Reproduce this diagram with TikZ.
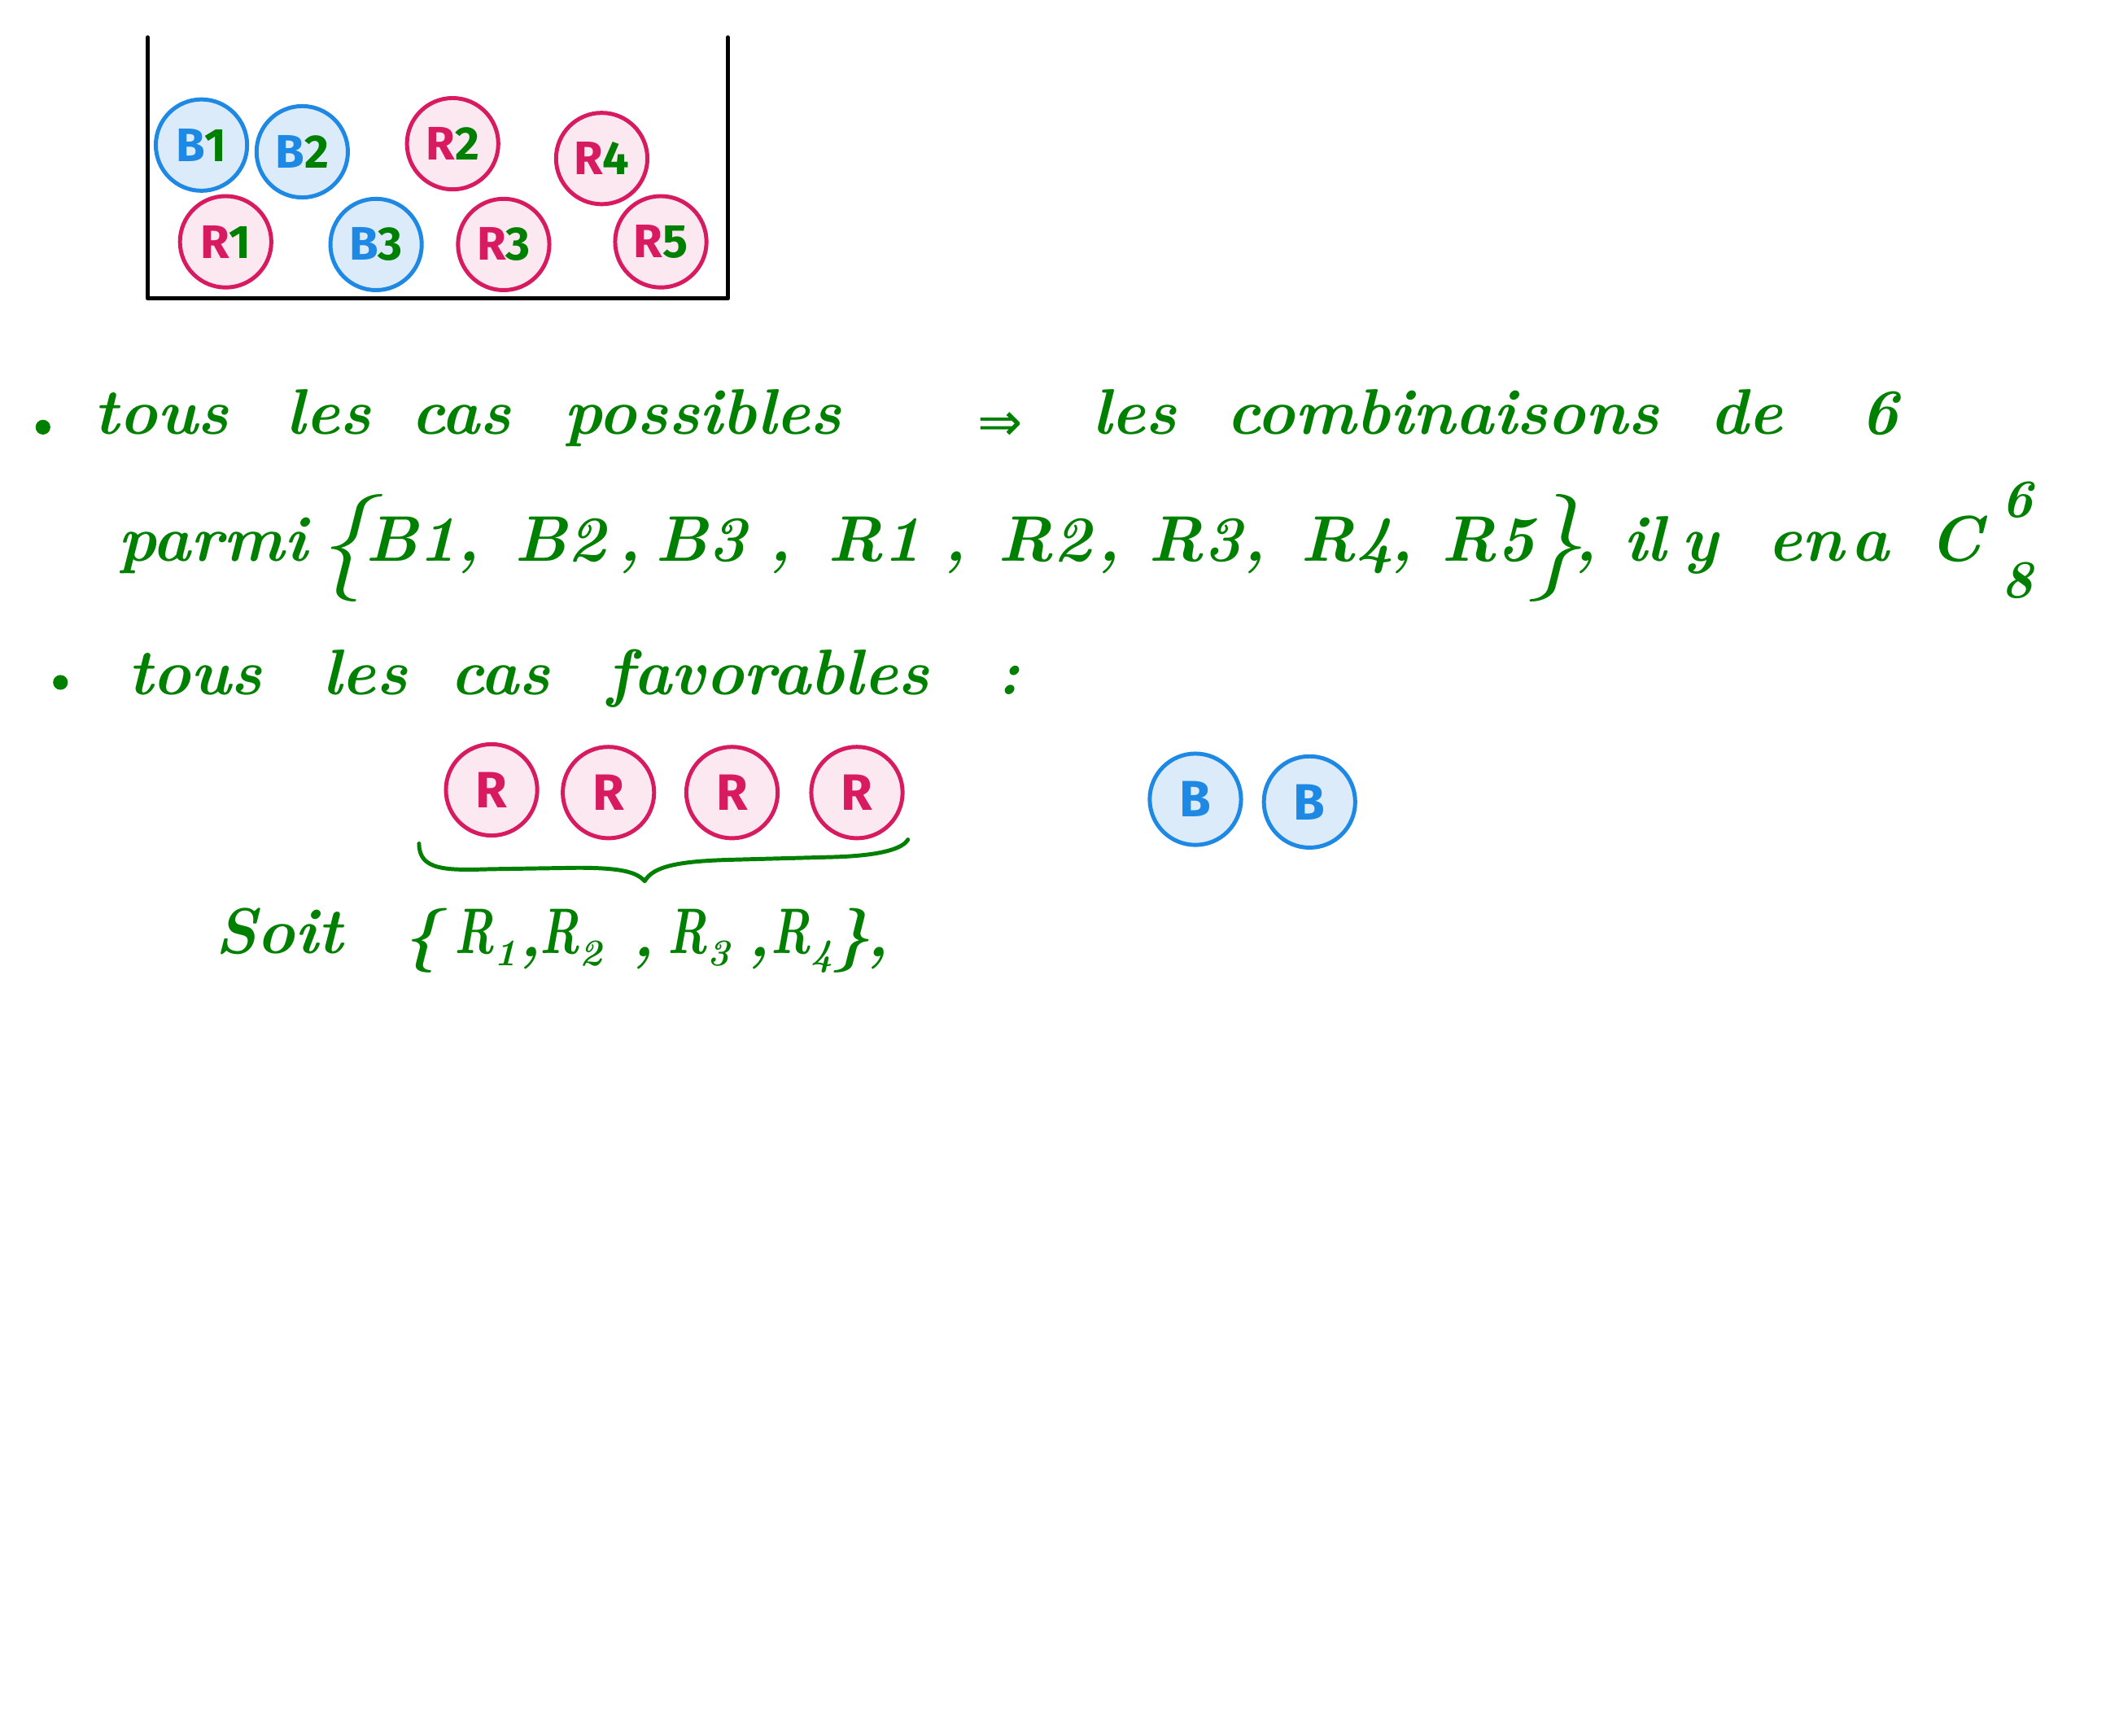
\documentclass[tikz,border=0pt]{standalone}
\usepackage{fontspec}
\usepackage{graphicx}
\newfontfamily\ballfont{Fira Sans}
\newfontfamily\symfont{DejaVu Sans}
\definecolor{hgreen}{HTML}{008000}
\definecolor{bstroke}{HTML}{1E88E5}
\definecolor{bfill}{HTML}{DCEBFA}
\definecolor{rstroke}{HTML}{D81B60}
\definecolor{rfill}{HTML}{FBE8F0}
\newcommand\bl[2]{\textcolor{bstroke}{#1}\textcolor{hgreen}{#2}}
\newcommand\rl[2]{\textcolor{rstroke}{#1}\textcolor{hgreen}{#2}}
\newcommand\Rsub[1]{\scalebox{0.72}[1]{R}\raisebox{-9pt}{\fontsize{28}{28}\selectfont #1}}
\tikzset{
  ball/.style={circle, line width=3pt, minimum size=68pt, inner sep=0pt,
    font=\ballfont\bfseries\fontsize{35}{35}\selectfont},
  blueball/.style={ball, draw=bstroke, fill=bfill, text=bstroke},
  redball/.style={ball, draw=rstroke, fill=rfill, text=rstroke},
  favball/.style={font=\ballfont\bfseries\fontsize{38}{38}\selectfont},
  hw/.style={anchor=base west, inner sep=0pt, text=hgreen,
    font=\fontsize{48}{58}\selectfont\bfseries\itshape},
  hwsmall/.style={hw, font=\fontsize{40}{48}\selectfont\bfseries\itshape},
  hwbig/.style={hw, font=\fontsize{80}{90}\selectfont\itshape},
  hwsym/.style={hw, font=\fontsize{40}{48}\selectfont\symfont},
  dotbul/.style={circle, fill=hgreen, minimum size=11pt, inner sep=0pt},
  ink/.style={draw=hgreen, line width=3pt, line cap=round, line join=round},
}
\begin{document}
\begin{tikzpicture}[x=1pt,y=-1pt]
\useasboundingbox[fill=white] (0,0) rectangle (1568,1292);
% container
\coordinate (ctl) at (110,28);
\coordinate (cbl) at (110,222);
\coordinate (cbr) at (542,222);
\coordinate (ctr) at (542,28);
\draw[line width=3.5pt, line cap=round, line join=round] (ctl) -- (cbl) -- (cbr) -- (ctr);
% balls in container
\node[blueball] (b1) at (150,108) {\bl{B}{1}};
\node[blueball] (b2) at (225,113) {\bl{B}{2}};
\node[redball] (r2) at (337,107) {\rl{R}{2}};
\node[redball] (r4) at (448,118) {\rl{R}{4}};
\node[redball] (r1) at (168,180) {\rl{R}{1}};
\node[blueball] (b3) at (280,182) {\bl{B}{3}};
\node[redball] (r3) at (375,182) {\rl{R}{3}};
\node[redball] (r5) at (492,180) {\rl{R}{5}};
% line 1
\node[dotbul] (bul1) at (32,318) {};
\node[hw] (w1) at (70,323) {tous};
\node[hw] (w2) at (213,323) {les};
\node[hw] (w3) at (306,323) {cas};
\node[hw] (w4) at (420,323) {possibles};
\node[hwsym] (w5) at (728,328) {⇒};
\node[hw] (w6) at (813,323) {les};
\node[hw] (w7) at (913,323) {combinaisons};
\node[hw] (w8) at (1273,323) {de};
\node[hw] (w9) at (1385,323) {6};
% line 2
\node[hw] (p1) at (88,418) {parmi};
\node[hwbig] (p2) at (236,428) {\{};
\node[hw] (p3) at (272,418) {B1};
\node[hw] (p4) at (340,418) {,};
\node[hw] (p5) at (383,418) {B2};
\node[hw] (p6) at (460,418) {,};
\node[hw] (p7) at (488,418) {B3};
\node[hw] (p8) at (572,418) {,};
\node[hw] (p9) at (616,418) {R1};
\node[hw] (p10) at (702,418) {,};
\node[hw] (p11) at (743,418) {R2};
\node[hw] (p12) at (817,418) {,};
\node[hw] (p13) at (855,418) {R3};
\node[hw] (p14) at (925,418) {,};
\node[hw] (p15) at (968,418) {R4};
\node[hw] (p16) at (1035,418) {,};
\node[hw] (p17) at (1073,418) {R5};
\node[hwbig] (p18) at (1138,428) {\}};
\node[hw] (p19) at (1172,418) {, il};
\node[hw] (p20) at (1252,418) {y};
\node[hw] (p21) at (1316,418) {en};
\node[hw] (p22) at (1378,418) {a};
\node[hw] (p23) at (1436,418) {C};
\node[hwsmall] (p24) at (1490,385) {6};
\node[hwsmall] (p25) at (1490,445) {8};
% line 3
\node[dotbul] (bul2) at (45,508) {};
\node[hw] (f1) at (95,517) {tous};
\node[hw] (f2) at (240,517) {les};
\node[hw] (f3) at (335,517) {cas};
\node[hw] (f4) at (452,517) {favorables};
\node[hw] (f5) at (742,517) {:};
% favourable balls
\node[redball, favball] (fr1) at (366,588) {R};
\node[redball, favball] (fr2) at (453,590) {R};
\node[redball, favball] (fr3) at (545,590) {R};
\node[redball, favball] (fr4) at (638,590) {R};
\node[blueball, favball] (fb1) at (890,595) {B};
\node[blueball, favball] (fb2) at (975,597) {B};
% brace
\draw[ink] (312,628) .. controls (312,648) and (332,648) .. (365,647)
  -- (430,646) .. controls (462,646) and (474,649) .. (480,656)
  .. controls (486,645) and (505,641) .. (545,640)
  -- (620,638) .. controls (655,637) and (672,632) .. (676,625);
% Soit line
\node[hw] (s1) at (160,710) {Soit};
\node[hw] (s2) at (300,712) {\{};
\node[hw] (s3) at (338,710) {\Rsub{1}};
\node[hw] (s4) at (386,712) {,};
\node[hw] (s5) at (402,710) {\Rsub{2}};
\node[hw] (s6) at (470,712) {,};
\node[hw] (s7) at (497,710) {\Rsub{3}};
\node[hw] (s8) at (556,712) {,};
\node[hw] (s9) at (574,710) {\Rsub{4}};
\node[hw] (s10) at (620,712) {\}};
\node[hw] (s11) at (645,712) {,};
\end{tikzpicture}
\end{document}
